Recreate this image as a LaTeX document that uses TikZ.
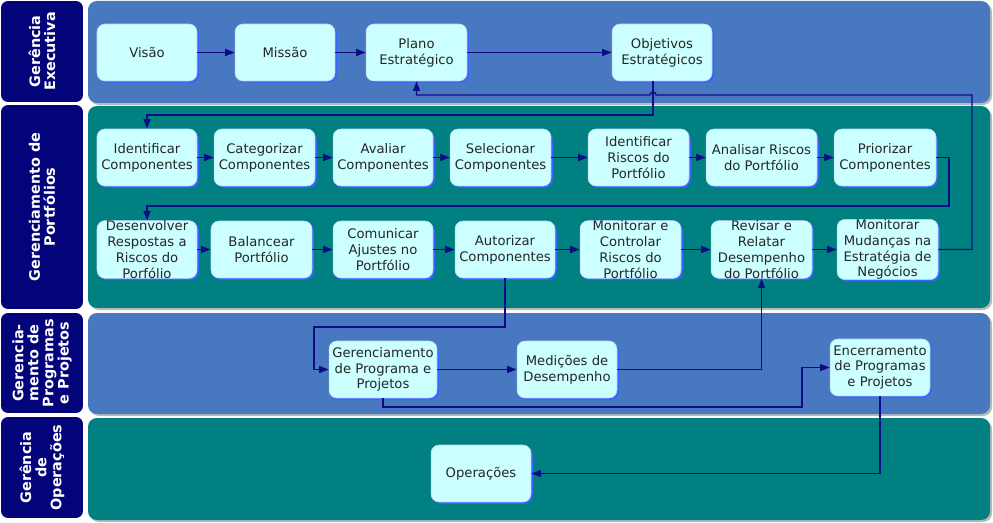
\documentclass[tikz,border=0pt]{standalone}
\usepackage{fontspec}
\setmainfont{DejaVu Sans}
\usepackage{xcolor}
\usetikzlibrary{arrows.meta}
\usetikzlibrary{calc}
\usetikzlibrary{shadows}

\definecolor{laneblue}{RGB}{72,121,192}
\definecolor{laneteal}{RGB}{0,128,128}
\definecolor{lanenavy}{RGB}{3,3,122}
\definecolor{boxfill}{RGB}{204,255,255}
\definecolor{boxedge}{RGB}{51,102,255}
\definecolor{flowcol}{RGB}{12,12,135}

\begin{document}
\begin{tikzpicture}[x=0.02cm,y=-0.02cm,
	etapa/.style={rectangle,rounded corners=4.5pt,fill=boxfill,draw=boxedge!30,line width=0.3pt,
		minimum width=2cm,minimum height=1.14cm,inner sep=0pt,align=center,
		text=black!85,font=\fontsize{7.5}{9}\selectfont,
		drop shadow={shadow xshift=1pt,shadow yshift=-1pt,fill=boxedge,opacity=1}},
	lanelabel/.style={rectangle,rounded corners=4pt,fill=lanenavy,rotate=90,inner sep=0pt,
		align=center,text=white,font=\bfseries\fontsize{8.2}{8.6}\selectfont,
		minimum height=1.64cm},
	fluxo/.style={draw=flowcol,line width=0.8pt,-{Triangle[length=5.5pt,width=4pt]}}]
	\useasboundingbox (0,0) rectangle (993,523);
	% faixas
	\fill[gray!55,rounded corners=5pt] (90,3) rectangle (992,105);
	\fill[laneblue,rounded corners=5pt] (88,1) rectangle (990,103);
	\fill[gray!55,rounded corners=5pt] (90,108) rectangle (992,310);
	\fill[laneteal,rounded corners=5pt] (88,106) rectangle (990,308);
	\fill[gray!55,rounded corners=5pt] (90,315) rectangle (992,416);
	\fill[laneblue,rounded corners=5pt] (88,313) rectangle (990,414);
	\fill[gray!55,rounded corners=5pt] (90,420) rectangle (992,522);
	\fill[laneteal,rounded corners=5pt] (88,418) rectangle (990,520);
	\node[lanelabel,minimum width=2.02cm] (lexec) at (42,51.5) {Gerência\\Executiva};
	\node[lanelabel,minimum width=4.08cm] (lport) at (42,207) {Gerenciamento de\\Portfólios};
	\node[lanelabel,minimum width=2cm] (lprog) at (42,363) {Gerencia-\\mento de\\Programas\\e Projetos};
	\node[lanelabel,minimum width=2.02cm] (loper) at (42,467.5) {Gerência\\de\\Operações};
	% Gerencia Executiva
	\node[etapa] (visao) at (147,52.5) {Visão};
	\node[etapa] (missao) at (285,52.5) {Missão};
	\node[etapa,minimum width=2.02cm] (plano) at (416.5,52.5) {Plano\\Estratégico};
	\node[etapa] (objetivos) at (662,52.5) {Objetivos\\Estratégicos};
	% Portfolios, linha 1
	\node[etapa] (identcomp) at (147,157.5) {Identificar\\Componentes};
	\node[etapa,minimum width=2.02cm] (categ) at (264.5,157.5) {Categorizar\\Componentes};
	\node[etapa] (avaliar) at (383,157.5) {Avaliar\\Componentes};
	\node[etapa,minimum width=2.02cm] (selec) at (500.5,157.5) {Selecionar\\Componentes};
	\node[etapa,minimum width=2.02cm] (identriscos) at (638.5,157.5) {Identificar\\Riscos do\\Portfólio};
	\node[etapa,minimum width=2.22cm] (analisar) at (761.5,157.5) {Analisar Riscos\\do Portfólio};
	\node[etapa,minimum width=2.04cm] (prior) at (885,157.5) {Priorizar\\Componentes};
	% Portfolios, linha 2
	\node[etapa] (desenv) at (147,249.5) {Desenvolver\\Respostas a\\Riscos do\\Porfólio};
	\node[etapa,minimum width=2.02cm] (balanc) at (261.5,249.5) {Balancear\\Portfólio};
	\node[etapa] (comunic) at (383,249.5) {Comunicar\\Ajustes no\\Portfólio};
	\node[etapa] (autor) at (505,249.5) {Autorizar\\Componentes};
	\node[etapa,minimum width=2.02cm] (monitctrl) at (630.5,249.5) {Monitorar e\\Controlar\\Riscos do\\Portfólio};
	\node[etapa,minimum width=2.02cm] (revisar) at (761.5,249.5) {Revisar e\\Relatar\\Desempenho\\do Portfólio};
	\node[etapa,minimum width=2.02cm] (mmud) at (887.5,249.5) {Monitorar\\Mudanças na\\Estratégia de\\Negócios};
	% Programas e Projetos
	\node[etapa,minimum width=2.16cm] (gerprog) at (383,369.5) {Gerenciamento\\de Programa e\\Projetos};
	\node[etapa] (medicoes) at (567,369.5) {Medições de\\Desempenho};
	\node[etapa] (encerr) at (880,367.5) {Encerramento\\de Programas\\e Projetos};
	% Operacoes
	\node[etapa] (oper) at (481,473.5) {Operações};
	% setas em linha
	\foreach \a/\b in {visao/missao,missao/plano,plano/objetivos,
		identcomp/categ,categ/avaliar,avaliar/selec,selec/identriscos,identriscos/analisar,analisar/prior,
		desenv/balanc,balanc/comunic,comunic/autor,autor/monitctrl,monitctrl/revisar,revisar/mmud,
		gerprog/medicoes}
		\draw[fluxo] (\a) -- (\b);
	% retornos
	\coordinate (desce) at (653,115);
	\coordinate (retorno) at (949,206);
	\coordinate (fbcanto) at (972,95);
	\coordinate (desvio) at (314,327);
	\coordinate (desvio2) at (802,407);
	\draw[fluxo] ($(objetivos.south)+(-9,0)$) -- (desce) -| (identcomp.north);
	\draw[fluxo] (prior.east) -| (retorno) -| (desenv.north);
	\draw[fluxo] (mmud.east) -| (fbcanto) -- ($(objetivos.south |- fbcanto)+(-6,0)$)
		arc[start angle=0,end angle=-180,radius=3] -- (plano.south |- fbcanto) -- (plano.south);
	\draw[fluxo] (autor.south) |- (desvio) |- (gerprog.west);
	\draw[fluxo] (medicoes.east) -| (revisar.south);
	\draw[fluxo] (gerprog.south) |- (desvio2) |- (encerr.west);
	\draw[fluxo] (encerr.south) |- (oper.east);
\end{tikzpicture}
\end{document}
